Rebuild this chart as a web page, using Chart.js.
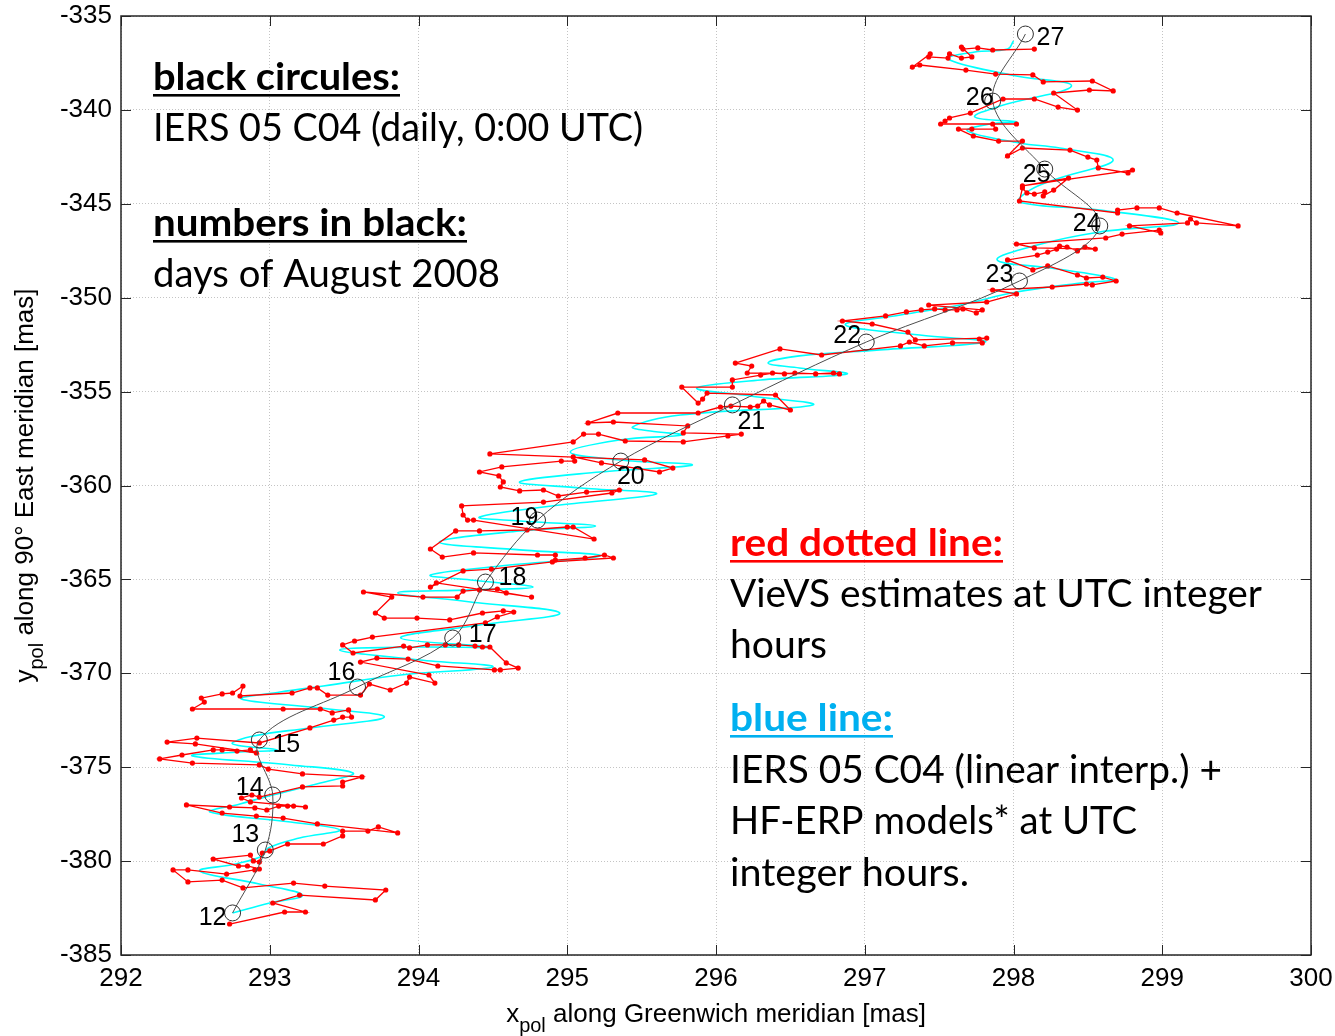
<!DOCTYPE html>
<html>
<head>
<meta charset="utf-8">
<script src="https://cdn.jsdelivr.net/npm/chart.js@4.4.1/dist/chart.umd.min.js"></script>
<style>
  html, body { margin: 0; padding: 0; background: #ffffff; }
  #wrap { width: 1335px; height: 1036px; position: relative; }
</style>
</head>
<body>
<div id="wrap"><canvas id="c" width="1335" height="1036"></canvas></div>
<script>
// ---- Tick labels ----
const xTickValues = [292, 293, 294, 295, 296, 297, 298, 299, 300];
const yTickValues = [-385, -380, -375, -370, -365, -360, -355, -350, -345, -340, -335];

// ---- IERS 05 C04 daily pole (0:00 UTC), days of August 2008 ----
const days = [12, 13, 14, 15, 16, 17, 18, 19, 20, 21, 22, 23, 24, 25, 26, 27];
const c04X = [292.75, 292.97, 293.02, 292.93, 293.59, 294.23, 294.45, 294.80, 295.36, 296.11, 297.01, 298.04, 298.58, 298.21, 297.86, 298.08];
const c04Y = [-382.76, -379.41, -376.48, -373.55, -370.73, -368.12, -365.14, -361.84, -358.70, -355.71, -352.36, -349.11, -346.18, -343.15, -339.53, -335.96];

// ---- VieVS hourly estimates [x, y] in mas ----
const vievsAug12 = [[292.73,-383.35],[293.10,-382.71],[293.24,-382.71],[293.02,-382.23],[293.20,-381.81],[293.71,-382.07],[293.78,-381.54],[293.37,-381.33],[293.16,-381.17],[292.82,-381.43],[292.68,-381.01],[292.45,-381.11],[292.35,-380.47],[292.45,-380.47],[292.71,-380.69],[292.90,-380.47],[292.93,-380.42],[292.85,-380.26],[292.79,-380.26],[292.62,-379.89],[292.87,-379.68],[292.89,-379.99],[292.93,-380.05],[292.95,-379.57]];
const vievsAug13 = [[293.00,-379.46],[293.12,-379.09],[293.36,-379.09],[293.49,-378.66],[293.49,-378.40],[293.66,-378.40],[293.73,-378.18],[293.86,-378.50],[293.32,-378.02],[293.09,-377.71],[292.91,-377.60],[292.68,-377.44],[292.44,-377.01],[292.73,-377.12],[292.90,-377.17],[292.98,-377.28],[293.06,-377.07],[293.12,-377.07],[293.16,-377.07],[293.24,-377.12],[292.87,-376.85],[292.81,-376.64],[292.88,-376.48],[292.93,-376.59]];
const vievsAug14 = [[293.22,-376.05],[293.49,-376.00],[293.49,-375.79],[293.62,-375.52],[293.22,-375.36],[292.99,-375.10],[292.93,-374.88],[292.48,-374.78],[292.26,-374.56],[292.41,-374.35],[292.62,-374.08],[292.68,-374.08],[292.78,-374.14],[292.87,-374.08],[292.91,-374.24],[292.50,-373.76],[292.31,-373.66],[292.51,-373.45],[292.93,-373.71]];
const vievsAug15 = [[293.27,-372.91],[293.43,-372.49],[293.49,-372.33],[293.55,-372.33],[293.53,-371.95],[293.42,-372.11],[293.34,-371.90],[293.09,-371.90],[292.48,-371.90],[292.56,-371.53],[292.54,-371.32],[292.68,-371.10],[292.75,-371.05],[292.82,-370.68],[292.80,-371.21],[293.15,-371.05],[293.27,-370.78],[293.32,-370.78],[293.39,-371.16],[293.61,-371.16],[293.67,-370.57],[293.81,-370.89],[293.92,-370.52]];
const vievsAug16 = [[293.94,-370.20],[294.11,-370.52],[294.07,-370.09],[293.61,-369.40],[293.72,-369.19],[293.93,-369.24],[294.13,-369.61],[294.51,-369.82],[294.55,-369.82],[294.67,-369.72],[294.59,-369.45],[294.48,-368.60],[294.43,-368.60],[294.38,-368.55],[294.27,-368.49],[294.18,-368.49],[294.06,-368.49],[293.94,-368.65],[293.90,-368.55],[293.56,-368.92],[293.49,-368.49],[293.57,-368.28],[293.69,-368.07]];
const vievsAug17 = [[294.45,-367.32],[294.53,-367.00],[294.64,-366.74],[294.57,-366.68],[294.43,-366.79],[294.21,-367.16],[293.99,-367.06],[293.77,-367.06],[293.71,-366.79],[293.82,-365.94],[293.63,-365.67],[294.03,-365.94],[294.26,-365.94],[294.30,-365.62],[294.41,-365.56],[294.53,-365.51],[294.59,-365.72],[294.76,-365.94],[294.12,-365.19],[294.08,-365.41]];
const vievsAug18 = [[294.30,-364.55],[294.49,-364.45],[294.90,-364.07],[295.31,-363.86],[295.25,-363.70],[295.12,-363.86],[294.92,-363.97],[294.92,-363.70],[294.80,-363.70],[294.37,-363.59],[294.16,-363.81],[294.08,-363.38],[294.25,-362.42],[294.41,-362.42],[294.73,-362.37],[295.00,-362.21],[295.04,-362.21],[295.18,-362.85],[294.37,-361.84],[294.33,-361.84],[294.30,-361.57],[294.29,-361.09]];
const vievsAug19 = [[294.84,-360.88],[295.30,-360.40],[295.35,-360.24],[295.13,-360.35],[294.94,-360.56],[294.84,-360.24],[294.68,-360.29],[294.55,-360.08],[294.57,-359.81],[294.54,-359.49],[294.41,-359.28],[294.56,-359.01],[294.96,-358.70],[295.05,-358.70],[295.04,-358.48],[295.23,-358.80],[295.62,-359.28],[295.71,-359.07],[295.52,-358.64]];
const vievsAug20 = [[294.48,-358.32],[295.04,-357.68],[295.11,-357.26],[295.21,-357.26],[295.39,-357.63],[295.78,-357.68],[296.08,-357.36],[296.17,-357.26],[295.78,-357.20],[295.81,-356.83],[295.31,-356.62],[295.14,-356.67],[295.34,-356.14],[295.88,-356.14],[296.03,-355.82],[296.10,-355.77]];
const vievsAug21 = [[296.23,-355.82],[296.28,-355.77],[296.32,-355.50],[296.36,-355.71],[296.50,-355.98],[296.40,-355.18],[295.94,-355.08],[295.91,-355.40],[295.88,-355.61],[295.77,-354.76],[296.11,-354.76],[296.11,-354.38],[296.30,-354.12],[296.38,-354.01],[296.46,-354.06],[296.53,-354.01],[296.67,-354.06],[296.79,-354.01],[296.83,-354.06],[296.21,-354.01],[296.24,-353.64],[296.13,-353.48],[296.43,-352.73],[296.71,-353.05]];
const vievsAug22 = [[297.24,-352.57],[297.30,-352.36],[297.40,-352.57],[297.59,-352.41],[297.79,-352.41],[297.77,-352.20],[297.82,-352.15],[297.34,-352.25],[297.29,-351.83],[297.05,-351.40],[296.85,-351.24],[297.14,-350.97],[297.28,-350.76],[297.38,-350.65],[297.47,-350.60],[297.54,-350.65],[297.62,-350.65],[297.66,-350.60],[297.75,-350.81],[297.79,-350.65],[297.43,-350.39],[297.82,-350.23],[298.02,-349.80],[297.86,-349.59]];
const vievsAug23 = [[298.26,-349.43],[298.49,-349.27],[298.53,-349.32],[298.69,-349.11],[298.60,-348.90],[298.49,-348.95],[298.43,-348.79],[298.23,-348.31],[298.13,-348.52],[297.96,-347.99],[298.16,-347.73],[298.23,-347.57],[298.29,-347.41],[298.31,-347.25],[298.36,-347.30],[298.43,-347.51],[298.48,-347.30],[298.55,-347.41],[298.14,-347.35],[298.02,-347.14],[298.62,-346.82],[298.73,-346.61]];
const vievsAug24 = [[298.98,-346.40],[298.99,-346.55],[298.78,-346.18],[299.17,-346.02],[299.19,-345.81],[299.23,-346.02],[299.51,-346.18],[299.10,-345.49],[298.98,-345.22],[298.83,-345.22],[298.70,-345.33],[298.70,-345.49],[298.04,-344.85],[298.06,-344.16],[298.09,-344.42],[298.14,-344.48],[298.21,-344.37],[298.20,-344.58],[298.27,-344.27],[298.37,-343.63],[298.06,-344.05]];
const vievsAug25 = [[298.80,-343.20],[298.77,-343.36],[298.57,-343.09],[298.56,-342.67],[298.50,-342.51],[298.38,-342.14],[298.06,-342.03],[297.96,-342.45],[298.06,-341.66],[297.90,-341.66],[297.73,-341.39],[297.63,-341.02],[297.72,-341.02],[297.88,-341.02],[297.86,-340.75],[298.02,-340.75],[297.51,-340.75],[297.54,-340.59],[297.57,-340.43],[297.71,-340.17],[297.93,-339.42]];
const vievsAug26 = [[298.14,-339.42],[298.30,-339.85],[298.43,-340.01],[298.27,-339.10],[298.51,-338.94],[298.67,-338.99],[298.53,-338.46],[298.20,-338.51],[298.13,-338.14],[297.88,-338.09],[297.68,-337.88],[297.37,-337.61],[297.32,-337.72],[297.44,-337.02],[297.43,-337.18],[297.56,-337.24],[297.57,-337.02],[297.65,-337.24],[297.72,-337.18],[297.65,-336.65],[297.66,-336.76],[297.76,-336.70],[297.86,-336.81],[298.14,-336.76]];

// ---- IERS 05 C04 (linear interp.) + HF-ERP models, path [x, y] in mas ----
const hfModelPath = [[292.75,-382.76],[293.00,-382.23],[293.22,-381.81],[292.93,-381.22],[292.53,-380.53],[292.77,-380.15],[292.95,-379.73],[292.99,-379.30],[293.20,-378.77],[293.47,-378.34],[293.14,-377.92],[292.60,-377.39],[292.80,-376.96],[293.02,-376.48],[293.34,-375.84],[293.56,-375.31],[293.14,-374.88],[292.48,-374.40],[292.80,-374.19],[293.05,-374.08],[292.75,-373.76],[292.89,-373.34],[293.27,-372.91],[293.77,-372.33],[293.34,-371.85],[292.81,-371.37],[293.07,-371.00],[293.36,-370.68],[293.88,-370.09],[294.50,-369.66],[294.01,-369.29],[293.47,-368.76],[294.01,-368.60],[294.48,-368.60],[293.88,-368.12],[294.41,-367.43],[294.95,-366.79],[294.35,-366.20],[293.86,-365.72],[294.35,-365.56],[294.77,-365.41],[294.35,-365.03],[294.08,-364.77],[294.55,-364.29],[295.22,-363.75],[294.68,-363.43],[294.14,-363.01],[294.68,-362.42],[295.19,-362.16],[294.68,-361.89],[294.41,-361.68],[294.95,-361.04],[295.60,-360.45],[295.09,-360.13],[294.68,-359.81],[295.22,-359.28],[295.84,-358.91],[295.35,-358.64],[295.02,-358.22],[295.35,-357.58],[295.77,-357.31],[295.56,-357.10],[295.44,-356.88],[295.76,-356.25],[296.65,-355.71],[296.23,-355.23],[295.87,-354.81],[296.30,-354.38],[296.88,-354.06],[296.56,-353.74],[296.35,-353.48],[296.56,-353.10],[297.10,-352.78],[297.81,-352.36],[297.37,-351.99],[296.87,-351.45],[297.24,-350.92],[297.64,-350.39],[298.02,-349.70],[298.45,-349.22],[298.68,-349.00],[298.25,-348.42],[297.89,-347.99],[298.16,-347.19],[298.58,-346.50],[299.11,-346.02],[298.58,-345.33],[298.04,-344.90],[298.11,-344.27],[298.31,-343.63],[298.67,-342.67],[298.31,-342.03],[298.04,-341.76],[297.69,-341.12],[297.84,-340.75],[298.02,-340.64],[297.74,-340.38],[297.91,-339.79],[298.39,-338.73],[297.98,-338.14],[297.56,-337.29],[297.74,-336.92],[297.96,-336.76],[298.00,-336.33]];

const vievsAll = [].concat(vievsAug12, vievsAug13, vievsAug14, vievsAug15, vievsAug16, vievsAug17,
  vievsAug18, vievsAug19, vievsAug20, vievsAug21, vievsAug22, vievsAug23, vievsAug24, vievsAug25, vievsAug26);

const toPoints = arr => arr.map(p => ({ x: p[0], y: p[1] }));
const c04Points = c04X.map((x, i) => ({ x: x, y: c04Y[i] }));

const TICK_FONT = '"Liberation Sans", Arial, sans-serif';
const NOTE_FONT = 'Lato, "Open Sans", sans-serif';

// Plot frame inside the 1335 x 1036 canvas
const FRAME = { left: 121, top: 16, right: 1311, bottom: 955 };

// Day number placement around each circle (pixel offsets)
const dayLabelOffsets = [[-20,5],[-20,-15],[-23,-7],[27,5],[-16,-14],[30,-3],[27,-4],[-13,-2],[10,16],[19,17],[-19,-6],[-20,-6],[-13,-2],[-8,6],[-13,-3],[25,4]];

// Axis sizes are fixed; tick labels are allowed to overhang the frame
function fixAxis(size, horizontal) {
  return s => {
    if (horizontal) s.height = size; else s.width = size;
    s.paddingTop = 0; s.paddingBottom = 0; s.paddingLeft = 0; s.paddingRight = 0;
  };
}

const framePlugin = {
  id: 'frame',
  afterDatasetsDraw(chart) {
    const ctx = chart.ctx;
    const xs = chart.scales.x, ys = chart.scales.y;
    ctx.save();
    ctx.fillStyle = '#000';
    ctx.font = '25px ' + TICK_FONT;
    ctx.textAlign = 'center';
    ctx.textBaseline = 'middle';
    days.forEach((d, i) => {
      const px = xs.getPixelForValue(c04X[i]);
      const py = ys.getPixelForValue(c04Y[i]);
      const o = dayLabelOffsets[i];
      ctx.fillText(String(d), px + o[0], py + o[1]);
    });
    ctx.restore();
  },
  afterDraw(chart) {
    const ctx = chart.ctx;
    const a = chart.chartArea;
    const xs = chart.scales.x, ys = chart.scales.y;
    ctx.save();
    // inward tick marks on all four sides
    ctx.strokeStyle = '#262626';
    ctx.lineWidth = 1;
    const tl = 10;
    xTickValues.forEach(v => {
      const px = Math.round(xs.getPixelForValue(v)) + 0.5;
      ctx.beginPath();
      ctx.moveTo(px, a.bottom); ctx.lineTo(px, a.bottom - tl);
      ctx.moveTo(px, a.top); ctx.lineTo(px, a.top + tl);
      ctx.stroke();
    });
    yTickValues.forEach(v => {
      const py = Math.round(ys.getPixelForValue(v)) + 0.5;
      ctx.beginPath();
      ctx.moveTo(a.left, py); ctx.lineTo(a.left + tl, py);
      ctx.moveTo(a.right, py); ctx.lineTo(a.right - tl, py);
      ctx.stroke();
    });
    ctx.lineWidth = 1.5;
    ctx.strokeRect(a.left, a.top, a.right - a.left, a.bottom - a.top);

    // axis titles with subscripts
    ctx.fillStyle = '#000';
    ctx.textBaseline = 'alphabetic';
    ctx.textAlign = 'left';
    const main = '26px ' + TICK_FONT, sub = '20px ' + TICK_FONT;
    const drawTitle = (sym, rest, cx, baseY) => {
      ctx.font = main; const w1 = ctx.measureText(sym).width; const w3 = ctx.measureText(rest).width;
      ctx.font = sub; const w2 = ctx.measureText('pol').width;
      const x0 = cx - (w1 + w2 + w3) / 2;
      ctx.font = main; ctx.fillText(sym, x0, baseY);
      ctx.font = sub; ctx.fillText('pol', x0 + w1, baseY + 10);
      ctx.font = main; ctx.fillText(rest, x0 + w1 + w2, baseY);
    };
    drawTitle('x', ' along Greenwich meridian [mas]', (a.left + a.right) / 2, 1022);
    ctx.save();
    ctx.translate(33, (a.top + a.bottom) / 2);
    ctx.rotate(-Math.PI / 2);
    drawTitle('y', ' along 90\u00b0 East meridian [mas]', 0, 0);
    ctx.restore();

    // explanatory notes: [text, left, baseline, colour, heading, line width]
    ctx.font = '36px ' + NOTE_FONT;
    const ref = ctx.measureText('IERS 05 C04 (daily, 0:00 UTC)').width;
    const fs = 36 * 490 / ref;
    const notes = [
      ['black circules:', 153, 90, '#000', true, 247],
      ['IERS 05 C04 (daily, 0:00 UTC)', 153, 141, '#000', false, 490],
      ['numbers in black:', 153, 236, '#000', true, 314],
      ['days of August 2008', 153, 287, '#000', false, 347],
      ['red dotted line:', 730, 556, '#ff0000', true, 273],
      ['VieVS estimates at UTC integer', 730, 607, '#000', false, 532],
      ['hours', 730, 658, '#000', false, 97],
      ['blue line:', 730, 731, '#00b0f0', true, 163],
      ['IERS 05 C04 (linear interp.) +', 730, 783, '#000', false, 492],
      ['HF-ERP models* at UTC', 730, 834, '#000', false, 407],
      ['integer hours.', 730, 886, '#000', false, 239]
    ];
    notes.forEach(n => {
      ctx.font = (n[4] ? 'bold ' : '') + fs.toFixed(2) + 'px ' + NOTE_FONT;
      ctx.fillStyle = n[3];
      const w = ctx.measureText(n[0]).width;
      ctx.save();
      ctx.translate(n[1], n[2]);
      ctx.scale(n[5] / w, 1);
      ctx.fillText(n[0], 0, 0);
      ctx.restore();
      if (n[4]) ctx.fillRect(n[1], n[2] + 4, n[5], 2.6);
    });
    ctx.restore();
  }
};

new Chart(document.getElementById('c'), {
  type: 'scatter',
  data: {
    datasets: [
      {
        label: 'IERS 05 C04 daily',
        data: c04Points,
        showLine: true,
        tension: 0.35,
        borderColor: '#4d4d4d',
        borderWidth: 1,
        pointRadius: 8,
        pointBorderWidth: 1,
        pointBorderColor: '#303030',
        pointBackgroundColor: 'rgba(0,0,0,0)',
        order: 0
      },
      {
        label: 'VieVS',
        data: toPoints(vievsAll),
        showLine: true,
        tension: 0,
        borderColor: '#ff0000',
        borderWidth: 1.3,
        pointRadius: 2.6,
        pointBorderWidth: 0,
        pointBackgroundColor: '#ff0000',
        order: 1
      },
      {
        label: 'C04 + HF-ERP',
        data: toPoints(hfModelPath),
        showLine: true,
        tension: 0.4,
        borderColor: '#00ffff',
        borderWidth: 1.6,
        pointRadius: 0,
        order: 2
      }
    ]
  },
  options: {
    responsive: false,
    animation: false,
    events: [],
    layout: { autoPadding: false, padding: { left: 0, top: FRAME.top, right: 1335 - FRAME.right, bottom: 0 } },
    plugins: { legend: { display: false }, tooltip: { enabled: false }, title: { display: false } },
    scales: {
      x: {
        type: 'linear',
        min: 292, max: 300,
        afterBuildTicks: s => { s.ticks = xTickValues.map(v => ({ value: v })); },
        afterFit: fixAxis(1036 - FRAME.bottom, true),
        ticks: { color: '#000', font: { family: TICK_FONT, size: 26 }, padding: 8, maxRotation: 0, callback: v => String(v) },
        grid: { color: '#c4c4c4', lineWidth: 1, drawTicks: false },
        border: { display: false, dash: [1, 2] }
      },
      y: {
        type: 'linear',
        min: -385, max: -335,
        afterBuildTicks: s => { s.ticks = yTickValues.map(v => ({ value: v })); },
        afterFit: fixAxis(FRAME.left, false),
        ticks: { color: '#000', font: { family: TICK_FONT, size: 26 }, padding: 9, callback: v => String(v) },
        grid: { color: '#c4c4c4', lineWidth: 1, drawTicks: false },
        border: { display: false, dash: [1, 2] }
      }
    }
  },
  plugins: [framePlugin]
});
</script>
</body>
</html>
